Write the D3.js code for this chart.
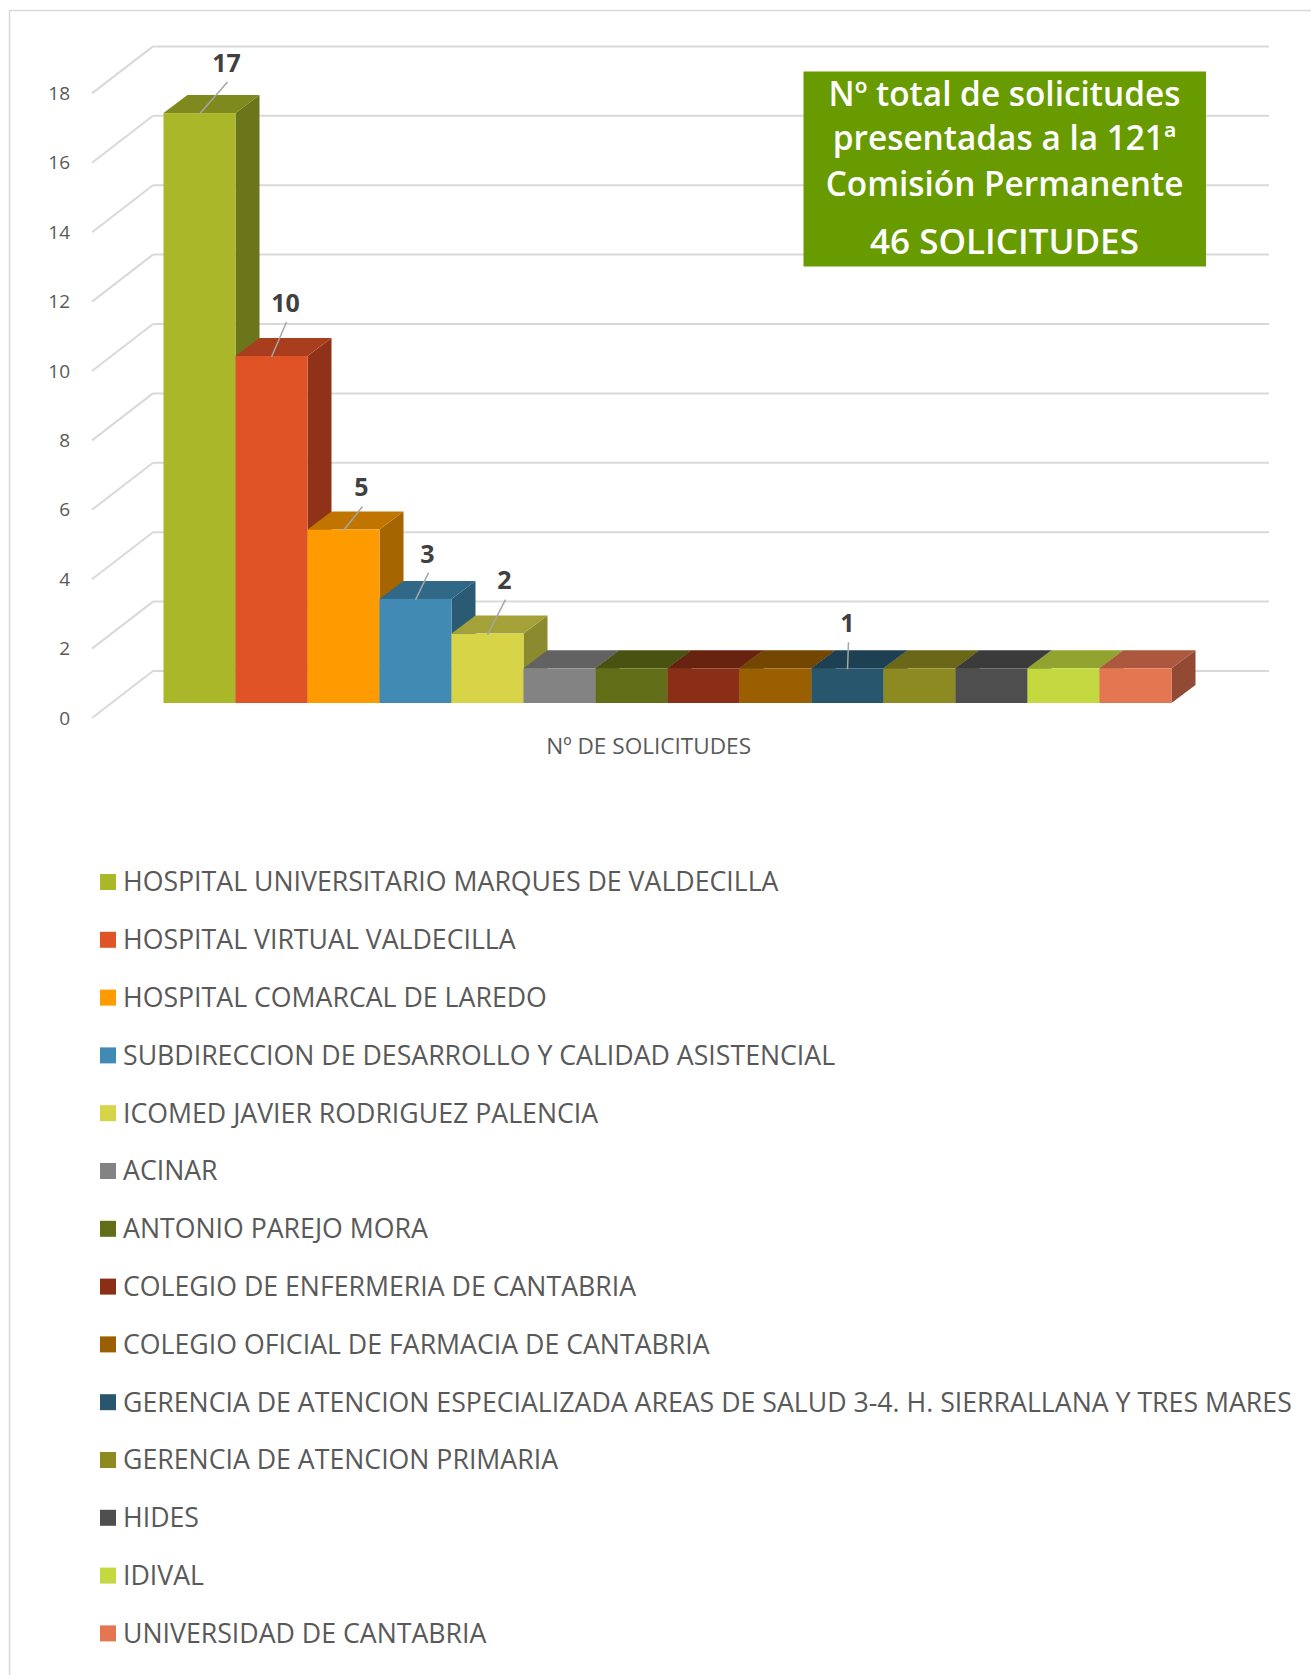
<!DOCTYPE html>
<html>
<head>
<meta charset="utf-8">
<script src="https://cdn.jsdelivr.net/npm/d3@7"></script>
<style>
  body { margin: 0; background: #fff; }
  svg { display: block; font-family: "Open Sans", "Noto Sans", sans-serif; }
</style>
</head>
<body>
<svg class="chart-svg"></svg>
<script>
var categories = [
  'HOSPITAL UNIVERSITARIO MARQUES DE VALDECILLA',
  'HOSPITAL VIRTUAL VALDECILLA',
  'HOSPITAL COMARCAL DE LAREDO',
  'SUBDIRECCION DE DESARROLLO Y CALIDAD ASISTENCIAL',
  'ICOMED JAVIER RODRIGUEZ PALENCIA',
  'ACINAR',
  'ANTONIO PAREJO MORA',
  'COLEGIO DE ENFERMERIA DE CANTABRIA',
  'COLEGIO OFICIAL DE FARMACIA DE CANTABRIA',
  'GERENCIA DE ATENCION ESPECIALIZADA AREAS DE SALUD 3-4. H. SIERRALLANA Y TRES MARES',
  'GERENCIA DE ATENCION PRIMARIA',
  'HIDES',
  'IDIVAL',
  'UNIVERSIDAD DE CANTABRIA'
];
var values = [17, 10, 5, 3, 2, 1, 1, 1, 1, 1, 1, 1, 1, 1];
var labelled = [0, 1, 2, 3, 4, 9];
var yTicks = [0, 2, 4, 6, 8, 10, 12, 14, 16, 18];
var axisTitle = 'Nº DE SOLICITUDES';
var boxLines = ['Nº total de solicitudes', 'presentadas a la 121ª', 'Comisión Permanente', '46 SOLICITUDES'];

var frontColors = ['#A9B728','#DF5327','#FE9B00','#418AB3','#D7D448','#838383','#626D17','#8B2E16','#9A5F00','#27566D','#8C8A20','#4E4E4E','#C3D93F','#E57652'];
var topColors = ['#7E891E','#A83E1D','#C07500','#316887','#A3A137','#626262','#4A5211','#682310','#744700','#1D4152','#6A6818','#3B3B3B','#93A32F','#AC583E'];
var sideColors = ['#6B761A','#8F3218','#A56500','#2A5A74','#8C8A2F','#555555','#3F460E','#5A1E0E','#633D00','#193846','#5B5914','#333333','#7E8C28','#934A34'];

var width = 1311, height = 1675;
var svg = d3.select('.chart-svg').attr('width', width).attr('height', height);

// outer frame (only top/left edges visible)
svg.append('rect').attr('x', 9.5).attr('y', 10.5).attr('width', 1400).attr('height', 1800)
  .attr('fill', 'none').attr('stroke', '#D9D9D9').attr('stroke-width', 1.5);

// scales on the front plane of the bars
var x = d3.scaleBand().domain(categories).range([163.5, 1171.5]).paddingInner(0).paddingOuter(0);
var y = d3.scaleLinear().domain([0, 18]).range([703, 703 - 18 * 34.7]);
var barDepth = [24, 18];   // bar thickness in screen px
var wallBack = 32;         // bars front -> back wall
var wallSide = [61, 47];   // left wall front -> back
var wallLeft = 153, wallRight = 1269;

var grid = svg.append('g');
yTicks.forEach(function(t) {
  var yb = y(t) - wallBack;
  grid.append('line').attr('x1', wallLeft).attr('x2', wallRight).attr('y1', yb).attr('y2', yb)
    .attr('stroke', '#D9D9D9').attr('stroke-width', 2);
  grid.append('line').attr('x1', wallLeft).attr('y1', yb)
    .attr('x2', wallLeft - wallSide[0]).attr('y2', yb + wallSide[1])
    .attr('stroke', '#D9D9D9').attr('stroke-width', 2);
  grid.append('text').attr('x', 70).attr('y', yb + wallSide[1]).attr('dy', '0.35em')
    .attr('text-anchor', 'end').attr('fill', '#595959').attr('font-size', 19).text(t);
});

var bars = svg.append('g');
var bw = x.bandwidth();
categories.forEach(function(c, i) {
  var x0 = x(c), x1 = x0 + bw, yt = y(values[i]), yb = y(0);
  var dx = barDepth[0], dy = barDepth[1];
  bars.append('polygon')
    .attr('points', [[x1, yt], [x1 + dx, yt - dy], [x1 + dx, yb - dy], [x1, yb]].join(' '))
    .attr('fill', sideColors[i]);
  bars.append('polygon')
    .attr('points', [[x0, yt], [x1, yt], [x1 + dx, yt - dy], [x0 + dx, yt - dy]].join(' '))
    .attr('fill', topColors[i]);
  bars.append('rect').attr('x', x0).attr('y', yt).attr('width', bw).attr('height', yb - yt)
    .attr('fill', frontColors[i]);
});

// data labels with leader lines
var labelNudge = [[27, -50], [14, -53], [18, -42], [12, -45], [17, -53], [0, -45]];
labelled.forEach(function(i, k) {
  var cx = x(categories[i]) + bw / 2, top = y(values[i]);
  var lx = cx + labelNudge[k][0], ly = top + labelNudge[k][1];
  svg.append('line').attr('x1', lx + 1).attr('y1', ly + 19).attr('x2', cx).attr('y2', top + 1)
    .attr('stroke', '#A6A6A6').attr('stroke-width', 1.5);
  svg.append('text').attr('x', lx).attr('y', ly).attr('dy', '0.35em').attr('text-anchor', 'middle')
    .attr('font-size', 25).attr('font-weight', 700).attr('fill', '#404040').text(values[i]);
});

function fitWidth(sel, target) {
  var fs = parseFloat(sel.attr('font-size'));
  var w = sel.node().getComputedTextLength();
  sel.attr('font-size', fs * target / w);
  return fs * target / w;
}

var at = svg.append('text').attr('x', 648.6).attr('y', 746).attr('dy', '0.35em').attr('text-anchor', 'middle')
  .attr('font-size', 20).attr('fill', '#595959').text(axisTitle);
fitWidth(at, 205);

// total box
svg.append('rect').attr('x', 803.5).attr('y', 71.5).attr('width', 402.5).attr('height', 195).attr('fill', '#679B00');
var boxBase = [106, 150, 196, 254];
var t0 = svg.append('text').attr('x', 1004.5).attr('y', boxBase[0]).attr('text-anchor', 'middle')
  .attr('font-size', 30).attr('font-weight', 600).attr('fill', '#fff').text(boxLines[0]);
var boxFs = fitWidth(t0, 352);
boxLines.slice(1).forEach(function(l, k) {
  svg.append('text').attr('x', 1004.5).attr('y', boxBase[k + 1]).attr('text-anchor', 'middle')
    .attr('font-size', k == 2 ? boxFs * 1.05 : boxFs).attr('font-weight', 600).attr('fill', '#fff').text(l);
});

// legend
var legend = svg.append('g');
var rowY = d3.scalePoint().domain(categories).range([882, 882 + 13 * 57.8]);
var lt0 = legend.append('text').attr('x', 123).attr('y', rowY(categories[0])).attr('dy', '0.35em')
  .attr('font-size', 23).attr('fill', '#595959').text(categories[0]);
var legFs = fitWidth(lt0, 656);
categories.forEach(function(c, i) {
  legend.append('rect').attr('x', 100).attr('y', rowY(c) - 8).attr('width', 16).attr('height', 16)
    .attr('fill', frontColors[i]);
  if (i > 0) {
    legend.append('text').attr('x', 123).attr('y', rowY(c)).attr('dy', '0.35em')
      .attr('font-size', legFs).attr('fill', '#595959').text(c);
  }
});
</script>
</body>
</html>
